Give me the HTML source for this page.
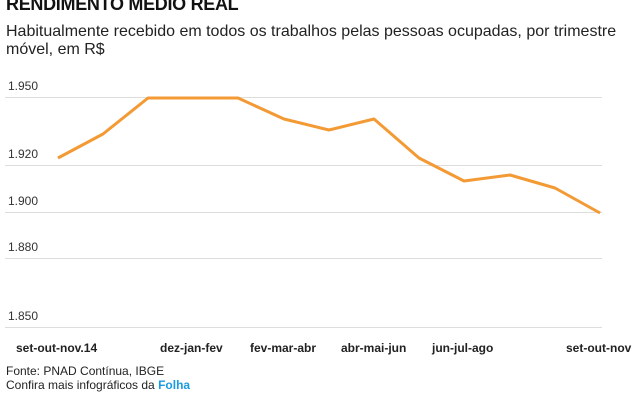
<!DOCTYPE html><html><head><meta charset="utf-8"><style>
body{margin:0;width:638px;height:400px;background:#fff;overflow:hidden;font-family:"Liberation Sans",Arial,sans-serif;position:relative}
div{position:absolute;white-space:nowrap}
.t{left:6px;top:-6px;font-size:18px;font-weight:bold;color:#111;letter-spacing:-0.3px}
.s{left:6px;font-size:16px;color:#222}
.y{left:8px;font-size:12px;color:#333}
.x{top:341px;font-size:12px;font-weight:bold;color:#222}
.f{left:6px;font-size:12px;color:#222}
</style></head><body>
<div class="t">RENDIMENTO MÉDIO REAL</div>
<div class="s" style="top:23px">Habitualmente recebido em todos os trabalhos pelas pessoas ocupadas, por trimestre</div>
<div class="s" style="top:41px">móvel, em R$</div>
<div class="y" style="top:79px">1.950</div>
<div class="y" style="top:147px">1.920</div>
<div class="y" style="top:194px">1.900</div>
<div class="y" style="top:240px">1.880</div>
<div class="y" style="top:309px">1.850</div>
<svg width="638" height="400" style="position:absolute;left:0;top:0">
<g stroke="#ddd" stroke-width="1">
<line x1="5" x2="602" y1="97.5" y2="97.5"/><line x1="5" x2="602" y1="165.5" y2="165.5"/><line x1="5" x2="602" y1="212.5" y2="212.5"/><line x1="5" x2="602" y1="258.5" y2="258.5"/><line x1="5" x2="602" y1="327.5" y2="327.5"/>
</g>
<polyline fill="none" stroke="#f39a35" stroke-width="3" stroke-linejoin="round" points="58,158 103,134 148,98 193,98 238,98 284,119 329,130 374,119 419,158 464,181 510,175 555,188 600,213"/>
</svg>
<div class="x" style="left:16px">set-out-nov.14</div>
<div class="x" style="left:160px">dez-jan-fev</div>
<div class="x" style="left:250px">fev-mar-abr</div>
<div class="x" style="left:341px">abr-mai-jun</div>
<div class="x" style="left:432px">jun-jul-ago</div>
<div class="x" style="left:566px">set-out-nov</div>
<div class="f" style="top:364px">Fonte: PNAD Contínua, IBGE</div>
<div class="f" style="top:378px">Confira mais infográficos da <b style="color:#1a9be0">Folha</b></div>
</body></html>
